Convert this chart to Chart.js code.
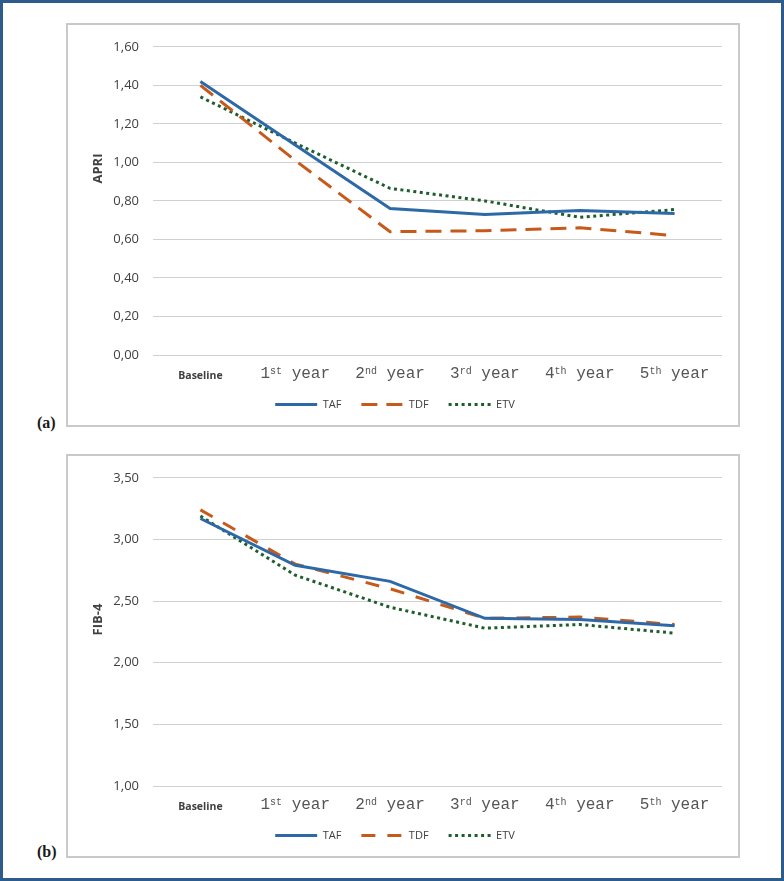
<!DOCTYPE html>
<html>
<head>
<meta charset="utf-8">
<script src="https://cdn.jsdelivr.net/npm/chart.js@4.4.1/dist/chart.umd.min.js"></script>
<style>
  html, body { margin: 0; padding: 0; background: #fff; }
  .frame { position: absolute; left: 0; top: 0; width: 784px; height: 881px; box-sizing: border-box; border: 3px solid #2c5b8c; }
  .panel { position: absolute; left: 66px; width: 674px; height: 404px; box-sizing: border-box; border: 2px solid #c9c9c9; background: #fff; }
  .panel canvas { position: absolute; left: 0; top: 0; }
  .tag { position: absolute; left: 37px; font: bold 16px "Liberation Serif", serif; color: #1a1a1a; }
</style>
</head>
<body>
<div class="frame"></div>
<div class="panel" style="top:23px"><canvas id="apriChart" width="670" height="400"></canvas></div>
<div class="tag" style="top:414px">(a)</div>
<div class="panel" style="top:454px"><canvas id="fibChart" width="670" height="400"></canvas></div>
<div class="tag" style="top:843px">(b)</div>

<script>
// ===== DATA =====
const categories = ['Baseline', '1st year', '2nd year', '3rd year', '4th year', '5th year'];

const apriTicks = [0, 0.2, 0.4, 0.6, 0.8, 1.0, 1.2, 1.4, 1.6];
const apriTAF = [1.42, 1.09, 0.76, 0.73, 0.75, 0.735];
const apriTDF = [1.40, 1.01, 0.64, 0.645, 0.66, 0.62];
const apriETV = [1.34, 1.10, 0.865, 0.80, 0.715, 0.755];

const fibTicks = [1.0, 1.5, 2.0, 2.5, 3.0, 3.5];
const fibTAF = [3.17, 2.79, 2.66, 2.36, 2.35, 2.30];
const fibTDF = [3.24, 2.80, 2.60, 2.36, 2.37, 2.31];
const fibETV = [3.19, 2.71, 2.45, 2.28, 2.31, 2.24];

// ===== STYLE =====
const TEXT = '#404040';
const GRID = '#d0d0d0';
const blue = '#2e69a7';
const orange = '#c55a1b';
const green = '#1d5e2c';

// rotated y title, Excel puts it a bit above the middle
const yTitlePlugin = {
  id: 'yTitle',
  afterDraw(chart, args, opts) {
    const { ctx, chartArea } = chart;
    const y = chartArea.top + (chartArea.bottom - chartArea.top) * opts.at;
    ctx.save();
    ctx.translate(opts.x, y);
    ctx.rotate(-Math.PI / 2);
    ctx.font = 'bold 13px "Open Sans"';
    ctx.fillStyle = TEXT;
    ctx.textAlign = 'center';
    ctx.textBaseline = 'middle';
    ctx.fillText(opts.text, 0, 0);
    ctx.restore();
  }
};

// category labels with ordinal superscripts ("1st" -> 1 + raised "st")
const xLabelPlugin = {
  id: 'xLabels',
  afterDraw(chart) {
    const { ctx, chartArea, scales: { x } } = chart;
    const big = '16px "Liberation Mono"';
    const small = '10px "Liberation Mono"';
    ctx.save();
    ctx.textBaseline = 'alphabetic';
    chart.data.labels.forEach((label, i) => {
      const cx = x.getPixelForValue(i);
      const m = label.match(/^(\d)(st|nd|rd|th)(.*)$/);
      if (!m) {
        ctx.font = 'bold 10.5px "Open Sans"';
        ctx.fillStyle = TEXT;
        ctx.textAlign = 'center';
        ctx.fillText(label, cx, chartArea.bottom + 24);
        return;
      }
      const y = chartArea.bottom + 23;
      ctx.fillStyle = '#555';
      ctx.textAlign = 'left';
      ctx.font = big;
      const w1 = ctx.measureText(m[1]).width;
      const w3 = ctx.measureText(m[3]).width;
      ctx.font = small;
      const w2 = ctx.measureText(m[2]).width;
      const left = cx - (w1 + w2 + w3) / 2;
      ctx.font = big;
      ctx.fillText(m[1], left, y);
      ctx.fillText(m[3], left + w1 + w2, y);
      ctx.font = small;
      ctx.fillText(m[2], left + w1, y - 4);
    });
    ctx.restore();
  }
};

function datasets(taf, tdf, etv, dash) {
  return [
    { label: 'TAF', data: taf, borderColor: blue, backgroundColor: blue, borderWidth: 3 },
    { label: 'TDF', data: tdf, borderColor: orange, backgroundColor: orange, borderWidth: 3, borderDash: dash },
    { label: 'ETV', data: etv, borderColor: green, backgroundColor: green, borderWidth: 3, borderDash: [3, 3.5] }
  ];
}

function options(ticks, title, titleAt) {
  return {
    responsive: false,
    animation: false,
    layout: { padding: { top: 14, right: 16, bottom: 5, left: 0 } },
    elements: { point: { radius: 0 }, line: { tension: 0, borderCapStyle: 'butt' } },
    plugins: {
      tooltip: { enabled: false },
      yTitle: { text: title, at: titleAt, x: 30 },
      legend: {
        position: 'bottom',
        labels: {
          usePointStyle: true, pointStyle: 'line', pointStyleWidth: 42,
          padding: 20, color: TEXT,
          font: { family: 'Open Sans', size: 11 },
          // keep the dash pattern of each series in the legend line
          generateLabels: (chart) => Chart.defaults.plugins.legend.labels.generateLabels(chart)
            .map((item, i) => ({ ...item, lineDash: chart.data.datasets[i].borderDash || [] }))
        }
      }
    },
    scales: {
      x: {
        offset: true,
        grid: { display: false },
        border: { display: false },
        ticks: { display: false },
        afterFit: (scale) => { scale.height = 24; }
      },
      y: {
        min: ticks[0],
        max: ticks[ticks.length - 1],
        afterFit: (scale) => { scale.width = 85; },
        afterBuildTicks: (scale) => { scale.ticks = ticks.map(v => ({ value: v })); },
        grid: { color: GRID, lineWidth: 1, drawTicks: false },
        border: { display: false },
        ticks: {
          padding: 14, color: TEXT,
          font: { family: 'Open Sans', size: 13 },
          callback: (v) => v.toFixed(2).replace('.', ',')
        }
      }
    }
  };
}

// APRI
new Chart(document.getElementById('apriChart'), {
  type: 'line',
  data: { labels: categories, datasets: datasets(apriTAF, apriTDF, apriETV, [16, 9]) },
  options: options(apriTicks, 'APRI', 0.395),
  plugins: [yTitlePlugin, xLabelPlugin]
});

// FIB-4
new Chart(document.getElementById('fibChart'), {
  type: 'line',
  data: { labels: categories, datasets: datasets(fibTAF, fibTDF, fibETV, [14, 12]) },
  options: options(fibTicks, 'FIB-4', 0.46),
  plugins: [yTitlePlugin, xLabelPlugin]
});
</script>
</body>
</html>
